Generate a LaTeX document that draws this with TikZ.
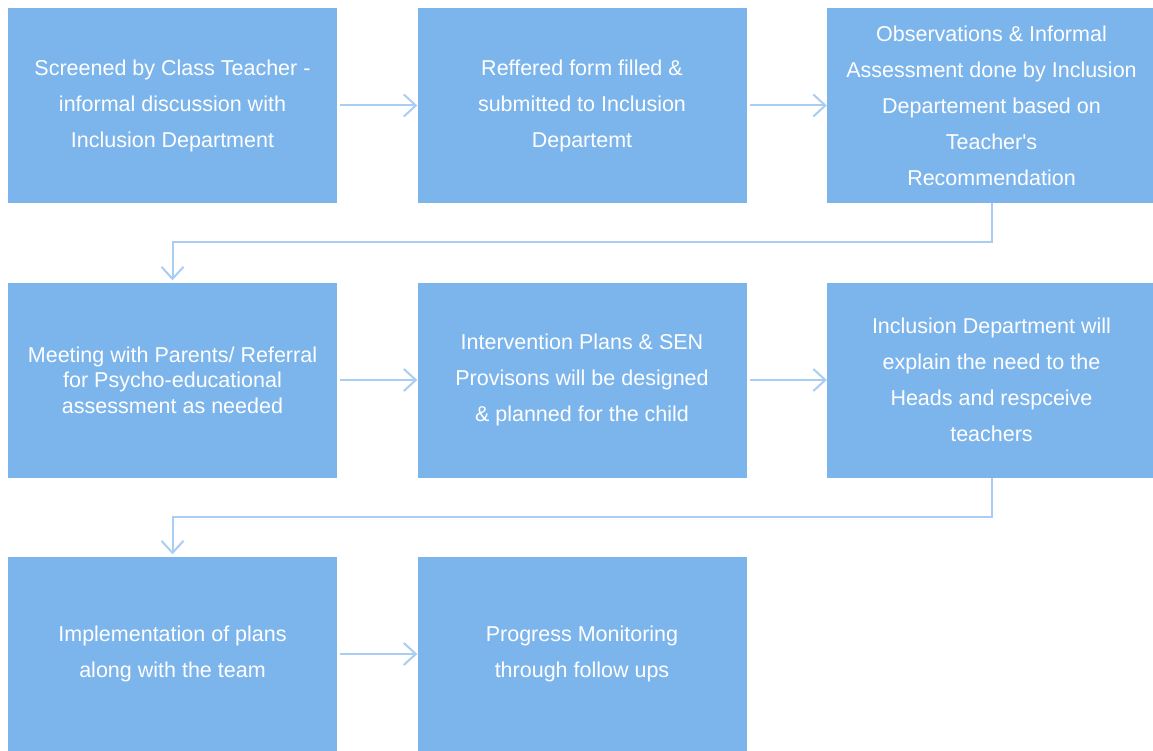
\documentclass[tikz,border=0pt]{standalone}
\usepackage{fontspec}
\setmainfont{Liberation Sans}
\usetikzlibrary{arrows.meta}
\definecolor{boxblue}{HTML}{7CB5EC}
\definecolor{lineblue}{HTML}{A9CDF3}

\begin{document}
\begin{tikzpicture}[x=1pt,y=-1pt,
  stepbox/.style={fill=boxblue, minimum width=329pt, minimum height=195pt,
    inner sep=0pt, text=white, align=center, font=\fontsize{21.5}{36}\selectfont},
  tightbox/.style={stepbox, font=\fontsize{21.5}{25.5}\selectfont},
  arr/.style={draw=lineblue, line width=2pt, -{Straight Barb[length=12pt,width=22pt]}}]
\useasboundingbox (0,0) rectangle (1153,751);

% Row 1
\node[stepbox] (s1) at (172.5,105.5) {Screened by Class Teacher -\\informal discussion with\\Inclusion Department};
\node[stepbox] (s2) at (582,105.5) {Reffered form filled \&\\submitted to Inclusion\\Departemt};
\node[stepbox] (s3) at (991.5,105.5) {Observations \& Informal\\Assessment done by Inclusion\\Departement based on\\Teacher\textquotesingle s\\Recommendation};

% Row 2
\node[tightbox] (s4) at (172.5,380) {Meeting with Parents/ Referral\\for Psycho-educational\\assessment as needed};
\node[stepbox] (s5) at (582,380) {Intervention Plans \& SEN\\Provisons will be designed\\\& planned for the child};
\node[stepbox] (s6) at (991.5,380) {Inclusion Department will\\explain the need to the\\Heads and respceive\\teachers};

% Row 3
\node[stepbox] (s7) at (172.5,654) {Implementation of plans\\along with the team};
\node[stepbox] (s8) at (582,654) {Progress Monitoring\\through follow ups};

% arrows
\draw[arr, shorten <=3pt] (s1) -- (s2);
\draw[arr, shorten <=3pt] (s2) -- (s3);
\draw[arr, shorten >=2pt] (s3.south) -- ++(0,39) -| (s4.north);
\draw[arr, shorten <=3pt] (s4) -- (s5);
\draw[arr, shorten <=3pt] (s5) -- (s6);
\draw[arr, shorten >=2pt] (s6.south) -- ++(0,39) -| (s7.north);
\draw[arr, shorten <=3pt] (s7) -- (s8);
\end{tikzpicture}
\end{document}
